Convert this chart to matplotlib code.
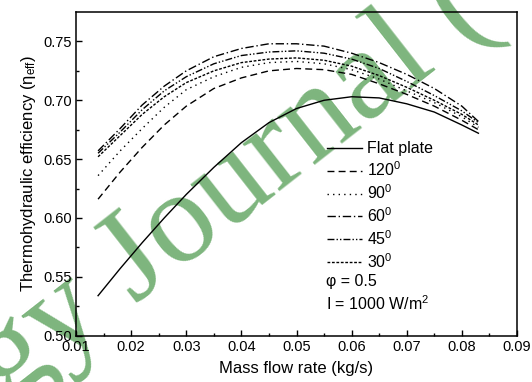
import matplotlib
matplotlib.use('Agg')
import matplotlib.pyplot as plt

plt.rcParams['font.family'] = ['Liberation Sans', 'DejaVu Sans']
plt.rcParams['mathtext.fontset'] = 'custom'
plt.rcParams['mathtext.rm'] = 'Liberation Sans'
plt.rcParams['mathtext.it'] = 'Liberation Sans:italic'

# data
mass_flow = [0.014, 0.018, 0.022, 0.026, 0.030, 0.035, 0.040, 0.045,
             0.050, 0.055, 0.060, 0.065, 0.070, 0.075, 0.080, 0.083]
eff_flat = [0.534, 0.557, 0.579, 0.600, 0.620, 0.643, 0.664, 0.681,
            0.693, 0.700, 0.703, 0.702, 0.697, 0.690, 0.679, 0.672]
eff_120 = [0.616, 0.639, 0.660, 0.679, 0.695, 0.710, 0.719, 0.725,
           0.727, 0.726, 0.722, 0.714, 0.705, 0.695, 0.683, 0.675]
eff_90 = [0.636, 0.657, 0.676, 0.694, 0.709, 0.720, 0.728, 0.732,
          0.733, 0.731, 0.726, 0.718, 0.708, 0.698, 0.686, 0.677]
eff_60 = [0.657, 0.676, 0.696, 0.712, 0.725, 0.737, 0.744, 0.748,
          0.748, 0.746, 0.740, 0.732, 0.722, 0.710, 0.695, 0.682]
eff_45 = [0.655, 0.673, 0.692, 0.708, 0.720, 0.731, 0.738, 0.741,
          0.742, 0.740, 0.735, 0.727, 0.716, 0.704, 0.691, 0.681]
eff_30 = [0.652, 0.670, 0.688, 0.703, 0.715, 0.725, 0.732, 0.735,
          0.736, 0.734, 0.729, 0.721, 0.711, 0.700, 0.688, 0.679]

labels = ['Flat plate', '120$^0$', '90$^0$', '60$^0$', '45$^0$', '30$^0$']
series = [eff_flat, eff_120, eff_90, eff_60, eff_45, eff_30]
styles = ['-', (0, (5, 3)), (0, (1, 3)), (0, (6, 2, 1, 2)),
          (0, (5, 1.5, 1, 1.5, 1, 1.5)), (0, (2, 1.2))]

fig = plt.figure(figsize=(5.32, 3.82), dpi=100)
ax = fig.add_axes([0.1429, 0.1212, 0.8289, 0.8474])

for y, lab, ls in zip(series, labels, styles):
    ax.plot(mass_flow, y, color='black', linestyle=ls, linewidth=1.0, label=lab)

ax.set_xlim(0.01, 0.09)
ax.set_ylim(0.50, 0.775)
ax.set_xticks([0.01, 0.02, 0.03, 0.04, 0.05, 0.06, 0.07, 0.08, 0.09])
ax.set_xticks([0.015, 0.025, 0.035, 0.045, 0.055, 0.065, 0.075, 0.085], minor=True)
ax.set_yticks([0.50, 0.55, 0.60, 0.65, 0.70, 0.75])
ax.set_yticks([0.525, 0.575, 0.625, 0.675, 0.725], minor=True)
ax.set_xticklabels(['0.01', '0.02', '0.03', '0.04', '0.05', '0.06', '0.07', '0.08', '0.09'])
ax.set_yticklabels(['0.50', '0.55', '0.60', '0.65', '0.70', '0.75'])
ax.tick_params(which='major', direction='in', length=4, width=1, labelsize=10.5, pad=3)
ax.tick_params(which='minor', direction='in', length=2.5, width=1)
for s in ax.spines.values():
    s.set_linewidth(1.1)

ax.set_xlabel('Mass flow rate (kg/s)', fontsize=12, labelpad=5)
ax.set_ylabel(r'Thermohydraulic efficiency ($\mathrm{\eta_{eff}}$)', fontsize=12, labelpad=4)

ax.legend(loc='upper left', bbox_to_anchor=(0.555, 0.62), frameon=False,
          fontsize=11.5, handlelength=2.2, handletextpad=0.3,
          labelspacing=0.26, borderaxespad=0)
ax.text(0.567, 0.166, 'φ = 0.5', transform=ax.transAxes, fontsize=11.5, va='center')
ax.text(0.567, 0.098, 'I = 1000 W/m$^2$', transform=ax.transAxes, fontsize=11.5, va='center')

# journal watermark
fig.text(233 / 532, 1 - 188 / 382, 'gy Journal (', fontsize=94, color='#7db57d',
         family='Liberation Serif', rotation=38, ha='center', va='center',
         rotation_mode='anchor', zorder=-1)
ax.patch.set_alpha(0)

fig.savefig('out.png', dpi=100)
